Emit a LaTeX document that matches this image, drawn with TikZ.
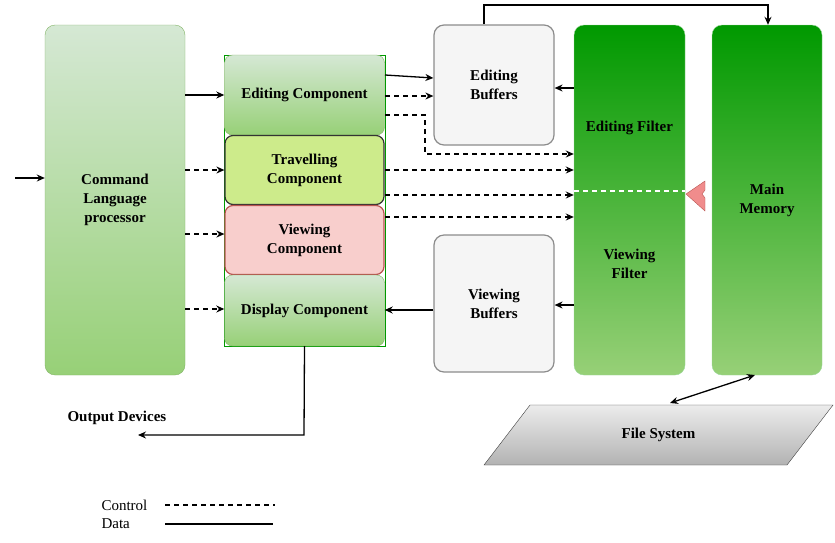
\documentclass[tikz,border=0pt]{standalone}
\usepackage{fontspec}
\setmainfont{Liberation Serif}
\usetikzlibrary{shapes.geometric,arrows.meta}
\begin{document}
\begin{tikzpicture}[x=1pt,y=-1pt,font=\bfseries\fontsize{15}{19}\selectfont,
 box/.style={rounded corners=10pt,draw,align=center,inner sep=0pt},
 gbox/.style={box,draw={rgb,255:red,130;green,179;blue,102},top color={rgb,255:red,213;green,232;blue,212},bottom color={rgb,255:red,151;green,208;blue,119}},
 filt/.style={box,draw=green!60!black!40,top color={rgb,255:red,0;green,153;blue,0},bottom color={rgb,255:red,151;green,208;blue,119}},
 buf/.style={box,fill=gray!8,draw=gray!90,line width=1.2pt},
 ar/.style={-{Stealth[length=8pt,width=7pt]},line width=1.3pt},
 dar/.style={ar,dash pattern=on 5pt off 4pt}]
\useasboundingbox (0,0) rectangle (835,542);
\node[gbox,minimum width=140pt,minimum height=350pt] (clp) at (115,200) {Command\\Language\\processor};
\draw[green!60!black,thick] (224,55) rectangle (385,346);
\node[gbox,rounded corners=8pt,minimum width=160pt,minimum height=80pt] (ec) at (304.5,95) {Editing Component};
\node[box,rounded corners=8pt,fill={rgb,255:red,205;green,235;blue,139},draw=black!80,line width=1.2pt,minimum width=159pt,minimum height=69pt] (tc) at (304.5,170) {Travelling\\Component};
\node[box,rounded corners=8pt,fill={rgb,255:red,248;green,206;blue,204},draw={rgb,255:red,184;green,84;blue,80},line width=1.2pt,minimum width=159pt,minimum height=69pt] (vc) at (304.5,240) {Viewing\\Component};
\node[gbox,rounded corners=8pt,minimum width=160pt,minimum height=71pt] (dc) at (304.5,310.5) {Display Component};
\node[buf,minimum width=120pt,minimum height=120pt] (eb) at (494,85) {Editing\\Buffers};
\node[buf,minimum width=120pt,minimum height=137pt] (vb) at (494,303.5) {Viewing\\Buffers};
\node[filt,minimum width=111pt,minimum height=350pt] (ff) at (629.5,200) {};
\node at (629.5,128) {Editing Filter};
\node[align=center] at (629.5,264) {Viewing\\Filter};
\node[filt,minimum width=110pt,minimum height=350pt] (mm) at (767,200) {Main\\Memory};
\draw[draw=gray!50!black,top color=gray!15,bottom color=gray!60] (530,405) -- (833,405) -- (787,465) -- (484,465) -- cycle;
\node (fs) at (658.5,435) {File System};
\coordinate (in) at (15,178);
\draw[ar] (in) -- (clp.west|-in);
\draw[ar] (clp.east|-ec) -- (ec.west);
\draw[dar] (clp.east|-tc) -- (tc.west);
\draw[dar] (185,234) -- (vc.west|-0,234);
\draw[dar] (185,309) -- (dc.west|-0,309);
\draw[ar] (385,75) -- (eb.west|-0,78);
\draw[dar] (385,96) -- (eb.west|-0,96);
\draw[dar] (385,115) -- (425,115) -- (425,154) -- (ff.west|-0,154);
\draw[dar] (385,170) -- (ff.west|-0,170);
\draw[dar] (385,195) -- (ff.west|-0,195);
\draw[dar] (385,217) -- (ff.west|-0,217);
\draw[ar] (ff.west|-0,88) -- (eb.east|-0,88);
\draw[ar] (ff.west|-0,305) -- (vb.east|-0,305);
\draw[ar] (vb.west|-0,310) -- (dc.east|-0,310);
\draw[ar] (eb.north-|484,0) -- (484,5) -- (768,5) -- (mm.north-|768,0);
\coordinate (od) at (138,435);
\draw[ar] (dc.south) -- (304,435) -- (od);
\node[anchor=west] at (64,418) {Output Devices};
\draw[{Stealth[length=8pt,width=7pt]}-{Stealth[length=8pt,width=7pt]},line width=1.3pt] (670,403) -- (755,375);
\draw[white,line width=1.2pt,dash pattern=on 5pt off 4pt] (574,191) -- (685,191);
\draw[fill={rgb,255:red,240;green,140;blue,140},draw={rgb,255:red,184;green,84;blue,80}] (686,194) -- (705,181) -- (705,190) -- (702,194) -- (705,198) -- (705,211) -- cycle;
\node[font=\fontsize{15}{19}\selectfont,anchor=west] (lc) at (98,505) {Control};
\node[font=\fontsize{15}{19}\selectfont,anchor=west] (ld) at (98,524) {Data};
\draw[line width=1.3pt,dash pattern=on 5pt off 4pt] (165,505) -- (275,505);
\draw[line width=1.3pt] (165,524) -- (273,524);
\end{tikzpicture}
\end{document}
